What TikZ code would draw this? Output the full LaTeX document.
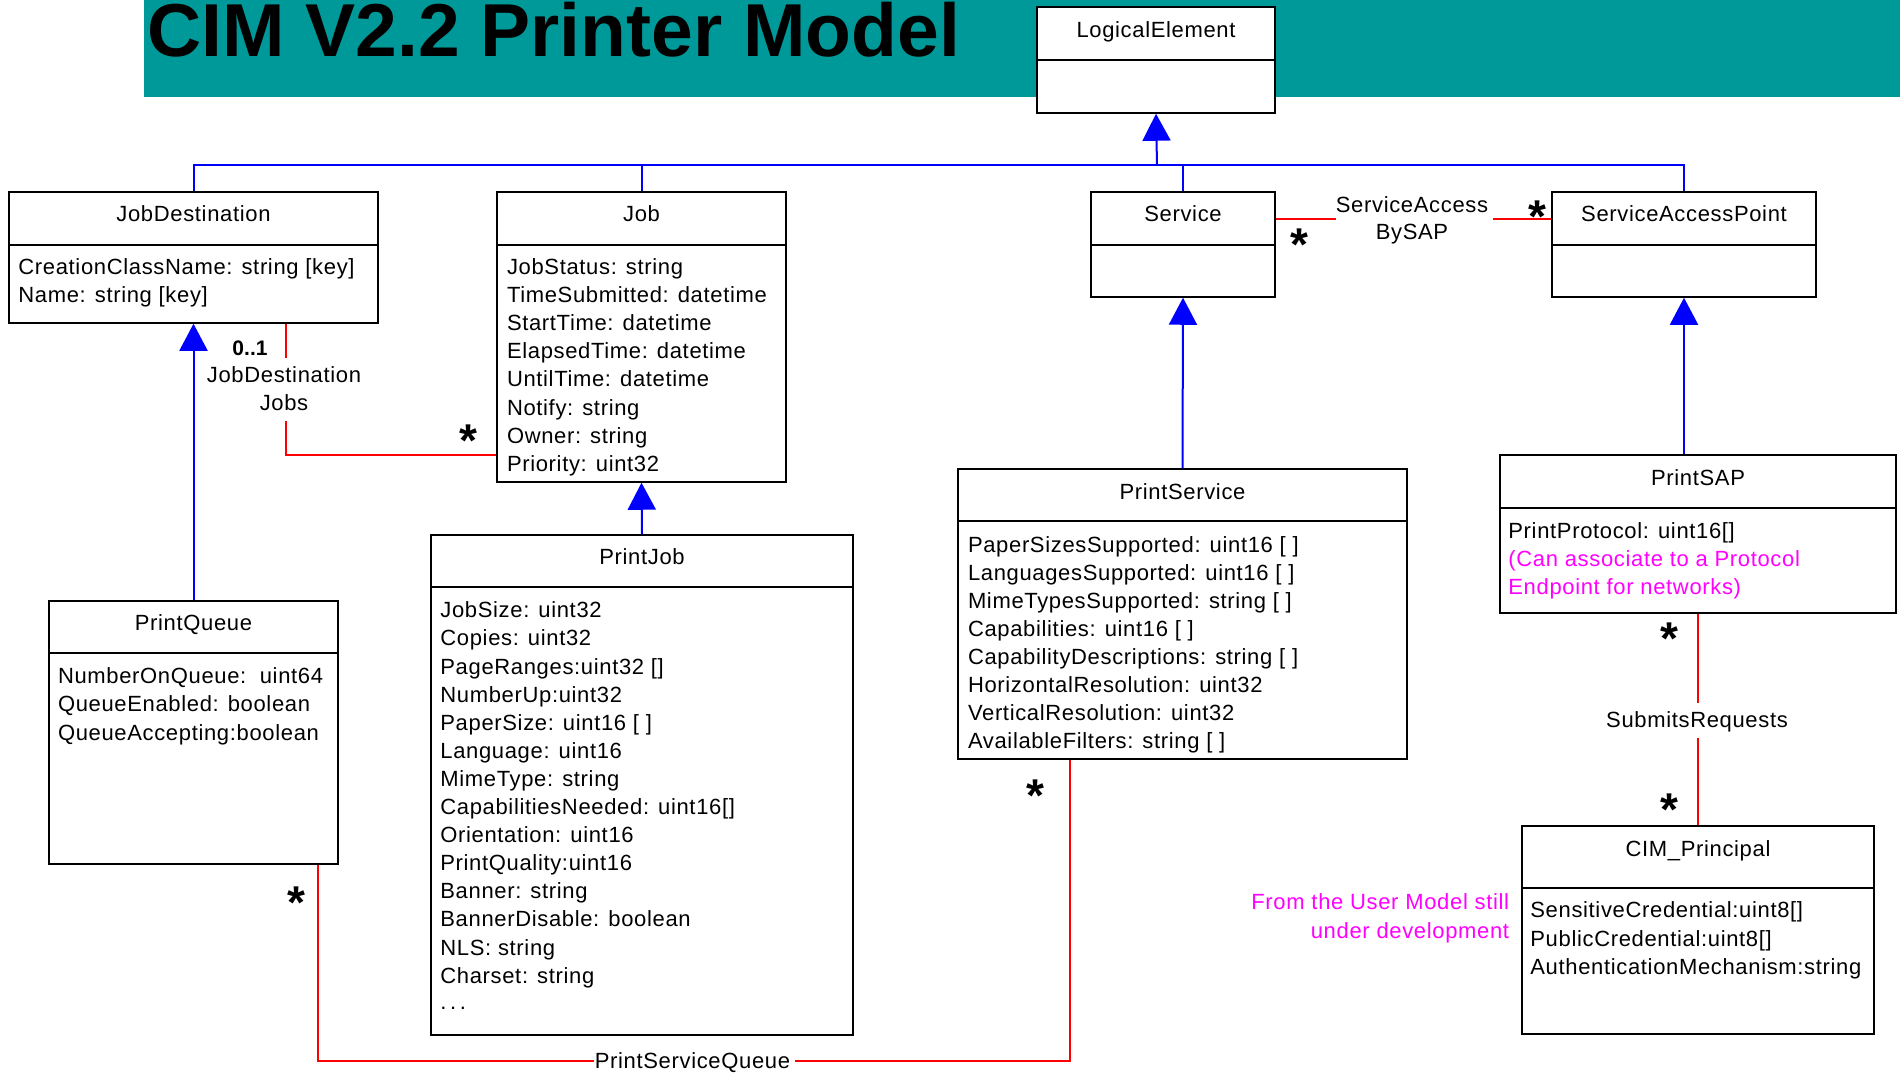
\documentclass[tikz,border=0pt]{standalone}
\usepackage{fontspec}
\setmainfont{Liberation Sans}[LetterSpace=3]
\newfontfamily\plainfont{Liberation Sans}
\usetikzlibrary{fit,arrows.meta}
\definecolor{bandteal}{HTML}{009999}
\definecolor{umlblue}{HTML}{0000FF}
\definecolor{umlred}{HTML}{FF0000}
\definecolor{umlmag}{HTML}{FF00FF}
\newcommand{\attrlist}[5]{%
  \foreach \txt [count=\idx from 0] in {#5} {\node[attr] (#1-\idx) at (#2,{#3+\idx*#4}) {\txt};}}
\begin{document}
\begin{tikzpicture}[x=0.5pt,y=-0.5pt,
  umlbox/.style={draw=black, line width=0.75pt, fill=white, inner sep=0pt},
  divline/.style={draw=black, line width=0.75pt},
  ttl/.style={anchor=base, inner sep=0pt, font=\fontsize{11}{13}\selectfont},
  attr/.style={anchor=base west, inner sep=0pt, font=\fontsize{11}{13}\selectfont},
  lbl/.style={anchor=base, inner sep=0pt, font=\fontsize{11}{13}\selectfont},
  note/.style={anchor=base west, inner sep=0pt, text=umlmag, font=\fontsize{11}{13}\selectfont},
  mult/.style={anchor=base, inner sep=0pt, font=\plainfont\bfseries\fontsize{23}{23}\selectfont},
  gen/.style={draw=umlblue, line width=1pt},
  genarrow/.style={gen, -{Triangle[width=14pt,length=13.5pt]}, fill=umlblue},
  assoc/.style={draw=umlred, line width=1pt}]
\useasboundingbox (0,0) rectangle (1900,1072);
% title band
\fill[bandteal] (144,0) rectangle (1900,97);
\node[anchor=base west, inner sep=0pt, font=\plainfont\fontsize{37.5}{40}\selectfont\bfseries] (title) at (147,56) {CIM V2.2 Printer Model};

% boxes
\node[umlbox, fit={(1037,7) (1275,113)}] (le) {};
\draw[divline] (1037,60) -- (1275,60);
\node[ttl] (le-t) at (1156,37) {LogicalElement};

\node[umlbox, fit={(9,192) (378,323)}] (jd) {};
\draw[divline] (9,245) -- (378,245);
\node[ttl] (jd-t) at (193.5,221.7) {JobDestination};
\attrlist{jd}{18}{274}{28.7}{{CreationClassName: string [key]},{Name: string [key]}}

\node[umlbox, fit={(497,192) (786,482)}] (job) {};
\draw[divline] (497,245) -- (786,245);
\node[ttl] (job-t) at (641.5,221.7) {Job};
\attrlist{job}{506.6}{274}{28.2}{{JobStatus: string},{TimeSubmitted: datetime},{StartTime: datetime},{ElapsedTime: datetime},{UntilTime: datetime},{Notify: string},{Owner: string},{Priority: uint32}}

\node[umlbox, fit={(1091,192) (1275,297)}] (svc) {};
\draw[divline] (1091,245) -- (1275,245);
\node[ttl] (svc-t) at (1183,221.7) {Service};

\node[umlbox, fit={(1552,192) (1816,297)}] (sap) {};
\draw[divline] (1552,245) -- (1816,245);
\node[ttl] (sap-t) at (1684,221.7) {ServiceAccessPoint};

\node[umlbox, fit={(49,601) (338,864)}] (pq) {};
\draw[divline] (49,653) -- (338,653);
\node[ttl] (pq-t) at (193.5,630.5) {PrintQueue};
\attrlist{pq}{57.6}{683}{28.8}{{NumberOnQueue:~~uint64},{QueueEnabled: boolean},{QueueAccepting:boolean}}

\node[umlbox, fit={(431,535) (853,1035)}] (pj) {};
\draw[divline] (431,587) -- (853,587);
\node[ttl] (pj-t) at (642,564) {PrintJob};
\attrlist{pj}{440}{617.8}{28.1}{{JobSize: uint32},{Copies: uint32},{PageRanges:uint32 []},{NumberUp:uint32},{PaperSize: uint16 [ ]},{Language: uint16},{MimeType: string},{CapabilitiesNeeded: uint16[]},{Orientation: uint16},{PrintQuality:uint16},{Banner: string},{BannerDisable: boolean},{NLS: string},{Charset: string}}
\node[attr] (pj-dots) at (440,1009) {.\,.\,.};

\node[umlbox, fit={(958,469) (1407,759)}] (ps) {};
\draw[divline] (958,521) -- (1407,521);
\node[ttl] (ps-t) at (1182.5,499) {PrintService};
\attrlist{ps}{967.6}{552.5}{28}{{PaperSizesSupported: uint16 [ ]},{LanguagesSupported: uint16 [ ]},{MimeTypesSupported: string [ ]},{Capabilities: uint16 [ ]},{CapabilityDescriptions: string [ ]},{HorizontalResolution: uint32},{VerticalResolution: uint32},{AvailableFilters: string [ ]}}

\node[umlbox, fit={(1500,455) (1896,613)}] (psap) {};
\draw[divline] (1500,508) -- (1896,508);
\node[ttl] (psap-t) at (1698,485) {PrintSAP};
\node[attr] (psap-0) at (1508,538) {PrintProtocol: uint16[]};
\node[note] (psap-1) at (1508,566) {(Can associate to a Protocol};
\node[note] (psap-2) at (1508,594) {Endpoint for networks)};

\node[umlbox, fit={(1522,826) (1874,1034)}] (cim) {};
\draw[divline] (1522,888) -- (1874,888);
\node[ttl] (cim-t) at (1698,856) {CIM\_Principal};
\attrlist{cim}{1530}{917.5}{28.7}{{SensitiveCredential:uint8[]},{PublicCredential:uint8[]},{AuthenticationMechanism:string}}

\node[note, anchor=base east] (note1) at (1509.5,909) {From the User Model still};
\node[note, anchor=base east] (note2) at (1509.5,938) {under development};

% generalization tree
\coordinate (hub) at (1157,165);
\draw[gen] (jd.north) -- (jd.north |- hub) -- (sap.north |- hub) -- (sap.north);
\draw[gen] (job.north) -- (job.north |- hub);
\draw[gen] (svc.north) -- (svc.north |- hub);
\draw[genarrow] (hub) -- (le.south);
\draw[genarrow] (pq.north) -- (jd.south);
\draw[genarrow] (pj.north) -- (job.south);
\draw[genarrow] (ps.north) -- (svc.south);
\draw[genarrow] (sap.south |- psap.north) -- (sap.south);

% JobDestinationJobs
\coordinate (jdjA) at (286,358);
\coordinate (jdjB) at (286,421);
\coordinate (jdjC) at (286,455);
\draw[assoc] (jdjA |- jd.south) -- (jdjA);
\draw[assoc] (jdjB) -- (jdjC) -- (jdjC -| job.west);
\node[lbl] (jdj-1) at (284,382) {JobDestination};
\node[lbl] (jdj-2) at (284,410.7) {Jobs};
\node[anchor=base, inner sep=0pt, font=\plainfont\bfseries\fontsize{10.5}{12}\selectfont] (jdj-m1) at (250,355) {0..1};
\node[mult] (jdj-m2) at (468,456) {*};

% ServiceAccessBySAP
\coordinate (sbA) at (1336,218.7);
\coordinate (sbB) at (1493,218.7);
\draw[assoc] (svc.east |- sbA) -- (sbA);
\draw[assoc] (sbB) -- (sap.west |- sbB);
\node[lbl] (sb-1) at (1412,212) {ServiceAccess};
\node[lbl] (sb-2) at (1412,239) {BySAP};
\node[mult] (sb-m1) at (1299,260) {*};
\node[mult] (sb-m2) at (1537,232) {*};

% SubmitsRequests
\coordinate (srA) at (1698,703);
\coordinate (srB) at (1698,738);
\draw[assoc] (psap.south -| srA) -- (srA);
\draw[assoc] (srB) -- (cim.north -| srB);
\node[lbl] (sr-1) at (1697,727) {SubmitsRequests};
\node[mult] (sr-m1) at (1669,654) {*};
\node[mult] (sr-m2) at (1669,825) {*};

% PrintServiceQueue
\coordinate (psqA) at (318,1061);
\coordinate (psqL) at (594,1061);
\coordinate (psqR) at (795,1061);
\coordinate (psqB) at (1070.4,1061);
\draw[assoc] (pq.south -| psqA) -- (psqA) -- (psqL);
\draw[assoc] (psqR) -- (psqB) -- (ps.south -| psqB);
\node[lbl] (psq-1) at (692.5,1068) {PrintServiceQueue};
\node[mult] (psq-m1) at (296,918) {*};
\node[mult] (psq-m2) at (1035,811) {*};
\end{tikzpicture}
\end{document}
